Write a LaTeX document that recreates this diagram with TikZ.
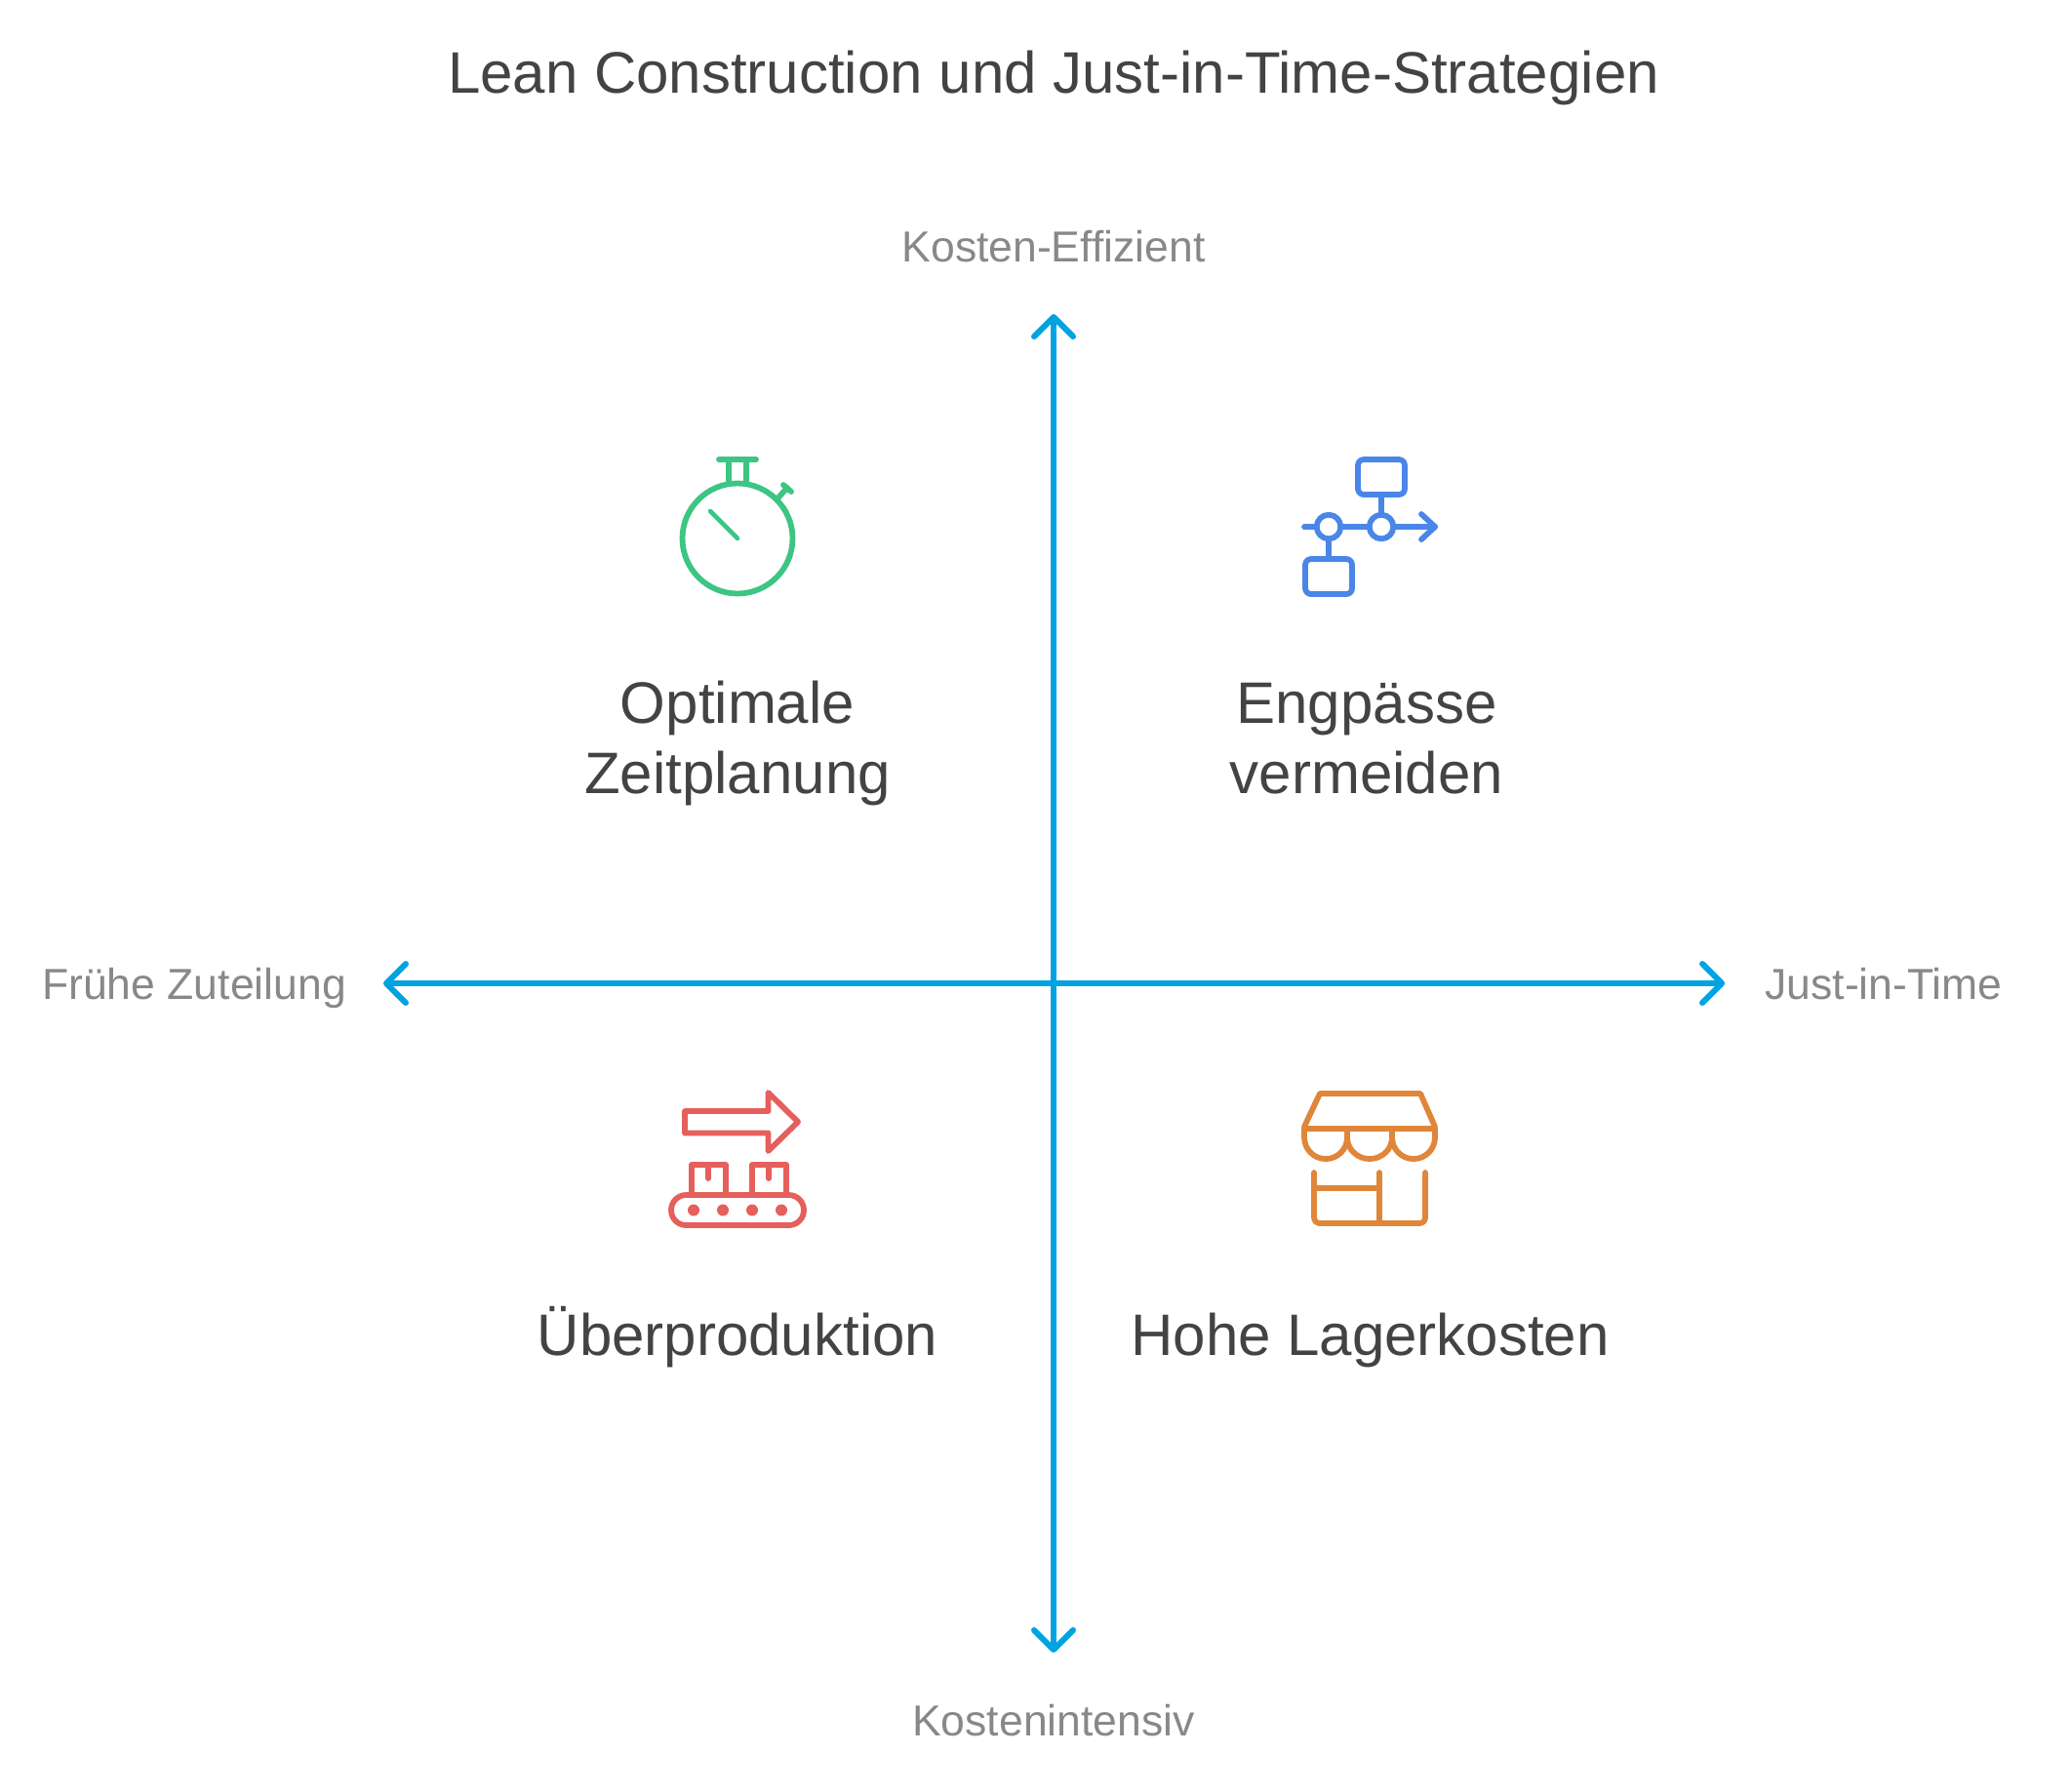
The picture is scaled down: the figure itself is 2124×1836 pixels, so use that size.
\documentclass[tikz,border=0pt]{standalone}
\usepackage{fontspec}
\setmainfont{Liberation Sans}
\usetikzlibrary{arrows.meta}
\definecolor{axisblue}{HTML}{00A3E0}
\definecolor{textgray}{HTML}{434343}
\definecolor{labelgray}{HTML}{888888}
\definecolor{watchgreen}{HTML}{3CC583}
\definecolor{flowblue}{HTML}{4A86E8}
\definecolor{beltred}{HTML}{E55F5C}
\definecolor{shoporange}{HTML}{E0863A}
\tikzset{
	axistip/.tip={Straight Barb[length=20pt,width=40pt,round]},
	axisline/.style={draw=axisblue,line width=6pt},
	titletext/.style={text=textgray,anchor=base,font=\fontsize{60}{72}\selectfont},
	itemtext/.style={text=textgray,anchor=base,font=\fontsize{60}{72}\selectfont},
	axistext/.style={text=labelgray,anchor=base,font=\fontsize{44.5}{52}\selectfont},
	iconline/.style={line width=5.8pt,line cap=round,line join=round}
}
\begin{document}
\begin{tikzpicture}[x=1pt,y=-1pt]
	\useasboundingbox (0,0) rectangle (2124,1836);

		\node[titletext] (title) at (1080,95) {Lean Construction und Just-in-Time-Strategien};

		\node[axistext] (efficient) at (1080,268) {Kosten-Effizient};
		\node[axistext] (intensive) at (1080,1779) {Kostenintensiv};
		\node[axistext] (early) at (199,1024) {Frühe Zuteilung};
		\node[axistext] (jit) at (1931,1024) {Just-in-Time};

		\coordinate (top) at (1080,322);
		\coordinate (bottom) at (1080,1694);
		\coordinate (left) at (393,1008);
		\coordinate (right) at (1768,1008);

		\path[axistip-axistip] (left) edge[axisline] (right);
		\path[axistip-axistip] (bottom) edge[axisline] (top);

		\node[itemtext] (timing) at (756,741) {Optimale};
		\node[itemtext] (timingb) at (756,813) {Zeitplanung};
		\node[itemtext] (bottleneck) at (1401,741) {Engpässe};
		\node[itemtext] (bottleneckb) at (1401,813) {vermeiden};
		\node[itemtext] (overprod) at (756,1389) {Überproduktion};
		\node[itemtext] (storage) at (1404.5,1389) {Hohe Lagerkosten};

		% stopwatch
		\begin{scope}[iconline,draw=watchgreen]
			\draw (756,552) circle (56.5);
			\draw (737,471) -- (775,471);
			\draw (747,471) -- (747,494);
			\draw (765,471) -- (765,494);
			\draw (798,510) -- (807,500);
			\draw (803,497) -- (811,504);
			\draw[line width=4.6pt] (728,524) -- (756,552);
		\end{scope}

		% flow
		\begin{scope}[iconline,draw=flowblue]
			\draw[rounded corners=6pt] (1392,471) rectangle (1440,507);
			\draw[rounded corners=6pt] (1338,573) rectangle (1386,609);
			\draw (1362,540) circle (12.3);
			\draw (1416,540) circle (12.3);
			\draw (1337,540) -- (1349.7,540);
			\draw (1374.3,540) -- (1403.7,540);
			\draw (1428.3,540) -- (1471,540);
			\draw (1457,527) -- (1471,540) -- (1457,553);
			\draw (1416,507) -- (1416,527.7);
			\draw (1362,552.3) -- (1362,573);
		\end{scope}

		% conveyor
		\begin{scope}[iconline,draw=beltred]
			\draw (702,1139) -- (787.5,1139) -- (787.5,1120) -- (818,1150) -- (787.5,1180) -- (787.5,1161.5) -- (702,1161.5) -- cycle;
			\draw (709,1225) -- (709,1194) -- (744,1194) -- (744,1225);
			\draw (771,1225) -- (771,1194) -- (806,1194) -- (806,1225);
			\draw (726,1194) -- (726,1208);
			\draw (788,1194) -- (788,1208);
			\draw[rounded corners=15.4pt] (688,1225) rectangle (824,1256);
			\foreach \dotx in {711,741,771,801}
				\fill[beltred] (\dotx,1240.5) circle (6);
		\end{scope}

		% shop
		\begin{scope}[iconline,draw=shoporange]
			\draw (1337,1155) -- (1353,1121) -- (1456,1121) -- (1471,1155);
			\draw (1337,1157) -- (1471,1157);
			\draw (1337,1157) -- (1337,1166) arc[start angle=180,end angle=0,x radius=22,y radius=22] -- (1381,1157);
			\draw (1381,1166) arc[start angle=180,end angle=0,x radius=23,y radius=22] -- (1427,1157);
			\draw (1427,1166) arc[start angle=180,end angle=0,x radius=22,y radius=22] -- (1471,1157);
			\draw[rounded corners=6pt] (1347,1202) -- (1347,1254) -- (1461,1254) -- (1461,1202);
			\draw (1414,1202) -- (1414,1254);
			\draw (1347,1218) -- (1414,1218);
		\end{scope}
	\end{tikzpicture}
\end{document}
